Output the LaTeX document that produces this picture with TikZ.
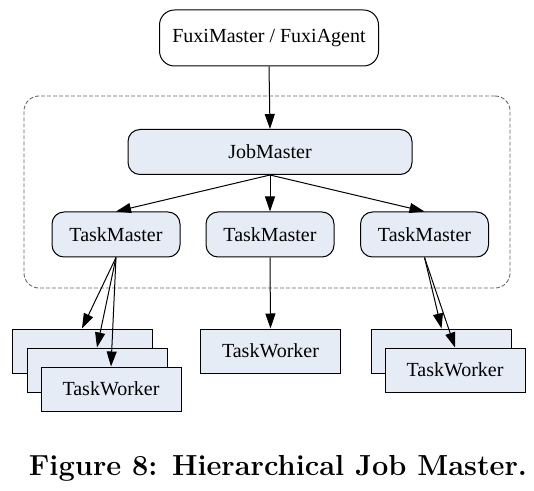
\documentclass[tikz,border=0pt]{standalone}
\usepackage{fontspec}
\newfontfamily\diagfont{Liberation Serif}
\usepackage{tikz}
\usetikzlibrary{arrows.meta,positioning}
\usepackage{xcolor}
\definecolor{boxfill}{RGB}{230,236,246}

\begin{document}
\begin{tikzpicture}[x=0.5pt,y=-0.5pt,
  agent/.style={draw, fill=white, rounded corners=7.5pt, line width=0.5pt,
                minimum width=109.5pt, minimum height=28pt, font=\diagfont},
  master/.style={draw, fill=boxfill, rounded corners=6pt, line width=0.5pt,
                 minimum width=64pt, minimum height=22.5pt, font=\diagfont},
  worker/.style={draw, fill=boxfill, line width=0.5pt,
                 minimum width=70pt, minimum height=22pt, font=\diagfont},
  group/.style={draw=gray!80!black, dash pattern=on 2pt off 1pt, line width=0.45pt,
                rounded corners=7.5pt, minimum width=243pt, minimum height=96pt},
  arrow/.style={-{Triangle[length=7.5pt,width=5pt]}, line width=0.5pt}
]
\useasboundingbox (0,0) rectangle (534,491);

%% Job group
\node[group] (grp) at (267,192) {};

%% Top level
\node[agent] (fuxi) at (269,38) {FuxiMaster / FuxiAgent};
\node[master, minimum width=142pt] (jm) at (270,152) {JobMaster};
\draw[arrow] (fuxi.south) -- (jm.north);

%% Task masters
\foreach \i/\x in {1/116, 2/270, 3/424.5}{
  \node[master] (tm\i) at (\x,234.5) {TaskMaster};
  \draw[arrow] (jm.south) -- (tm\i.north);
}

%% Task workers (stacked)
\node[worker] (wa1) at (82,351) {};
\node[worker] (wa2) at (97,370) {};
\node[worker] (wa3) at (111,389) {TaskWorker};
\node[worker] (wb1) at (270.5,351) {TaskWorker};
\node[worker] (wc1) at (441.5,351) {};
\node[worker] (wc2) at (455,370) {TaskWorker};

\foreach \j in {1,2,3}
  \draw[arrow] (tm1.south) -- (wa\j.north);
\draw[arrow] (tm2.south) -- (wb1.north);
\foreach \j in {1,2}
  \draw[arrow] (tm3.south) -- (wc\j.north);

%% Caption
\node[anchor=base, font=\fontsize{14.5}{17}\selectfont\bfseries] (cap) at (278,475)
  {Figure 8: Hierarchical Job Master.};

\end{tikzpicture}
\end{document}
